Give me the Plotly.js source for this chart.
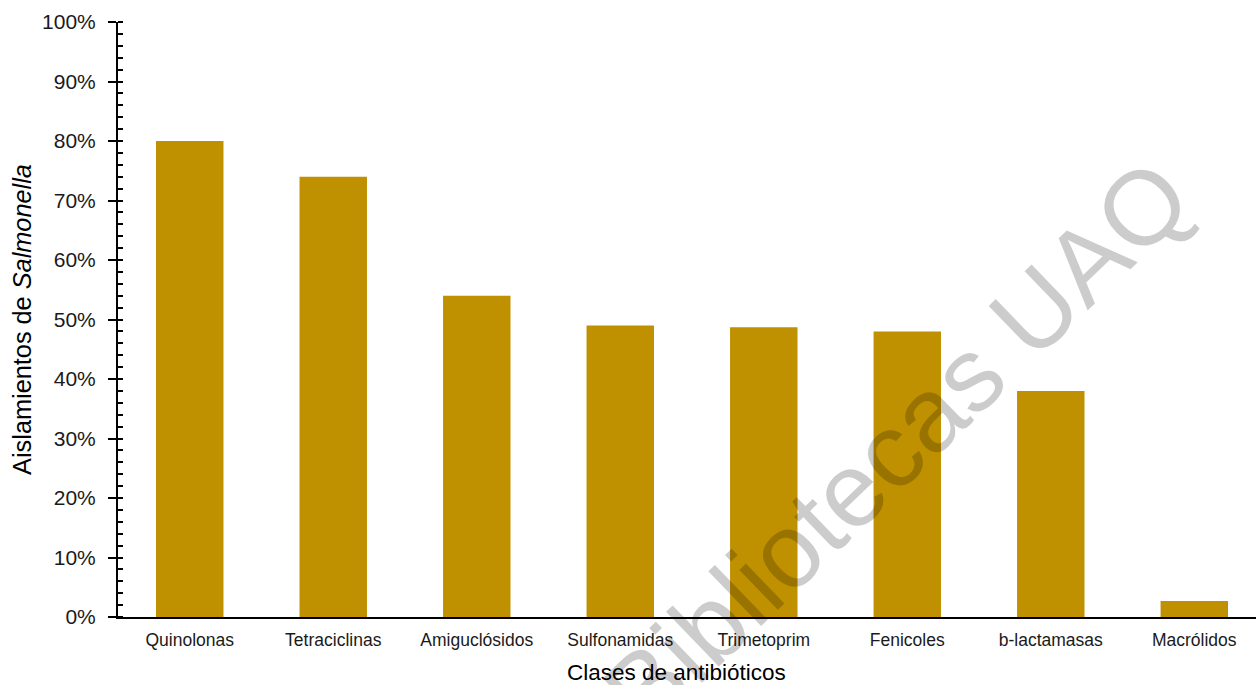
<!DOCTYPE html>
<html>
<head>
<meta charset="utf-8">
<script src="https://cdn.plot.ly/plotly-3.0.1.min.js"></script>
<style>
  html, body { margin: 0; padding: 0; background: #ffffff; }
  #chart { width: 1256px; height: 685px; }
</style>
</head>
<body>
<div id="chart"></div>
<script>
// Antibiotic classes and share of resistant Salmonella isolates
const clases = ['Quinolonas', 'Tetraciclinas', 'Amiguclósidos', 'Sulfonamidas',
                'Trimetoprim', 'Fenicoles', 'b-lactamasas', 'Macrólidos'];
const aislamientos = [0.80, 0.74, 0.54, 0.49, 0.487, 0.48, 0.38, 0.027];

const FONT = 'Liberation Sans, Arial, sans-serif';

const trace = {
  type: 'bar',
  x: clases,
  y: aislamientos,
  marker: { color: '#BF9000', line: { width: 0 } },
  hoverinfo: 'x+y'
};

const layout = {
  width: 1256,
  height: 685,
  margin: { l: 118, r: 0, t: 22, b: 68 },
  paper_bgcolor: '#ffffff',
  plot_bgcolor: '#ffffff',
  showlegend: false,
  bargap: 0.53,
  font: { family: FONT, color: '#000000' },
  xaxis: {
    type: 'category',
    range: [-0.5, 7.43],
    showline: true,
    linecolor: '#000000',
    linewidth: 2,
    ticks: '',
    showgrid: false,
    zeroline: false,
    tickfont: { size: 17.5, family: FONT, color: '#1a1a1a' },
    ticklabelstandoff: 6,
    automargin: false
  },
  yaxis: {
    range: [0, 1],
    dtick: 0.1,
    tick0: 0,
    tickformat: '.0%',
    showline: true,
    linecolor: '#000000',
    linewidth: 2,
    ticks: 'outside',
    ticklen: 8,
    tickwidth: 2,
    tickcolor: '#000000',
    showgrid: false,
    zeroline: false,
    tickfont: { size: 21, family: FONT, color: '#1a1a1a' },
    ticklabelstandoff: 8,
    automargin: false,
    minor: {
      dtick: 0.02,
      ticks: 'inside',
      ticklen: 5,
      tickwidth: 2,
      tickcolor: '#000000',
      showgrid: false
    },
    title: {
      text: 'Aislamientos de <i>Salmonella</i>',
      font: { size: 25.3, family: FONT, color: '#000000' },
      standoff: 3
    }
  },
  annotations: [
    {
      // category axis title, centred under the full category band
      text: 'Clases de antibióticos',
      xref: 'paper', yref: 'paper',
      x: 0.491, y: -0.094,
      xanchor: 'center', yanchor: 'middle',
      showarrow: false,
      font: { size: 22.5, family: FONT, color: '#000000' }
    },
    {
      text: 'Bibliotecas UAQ',
      xref: 'paper', yref: 'paper',
      x: 0.684, y: 0.29,
      xanchor: 'center', yanchor: 'middle',
      showarrow: false,
      textangle: -44,
      font: { size: 105, family: FONT, color: 'rgba(0,0,0,0.2)' }
    }
  ]
};

Plotly.newPlot('chart', [trace], layout, { displayModeBar: false, staticPlot: true });
</script>
</body>
</html>
